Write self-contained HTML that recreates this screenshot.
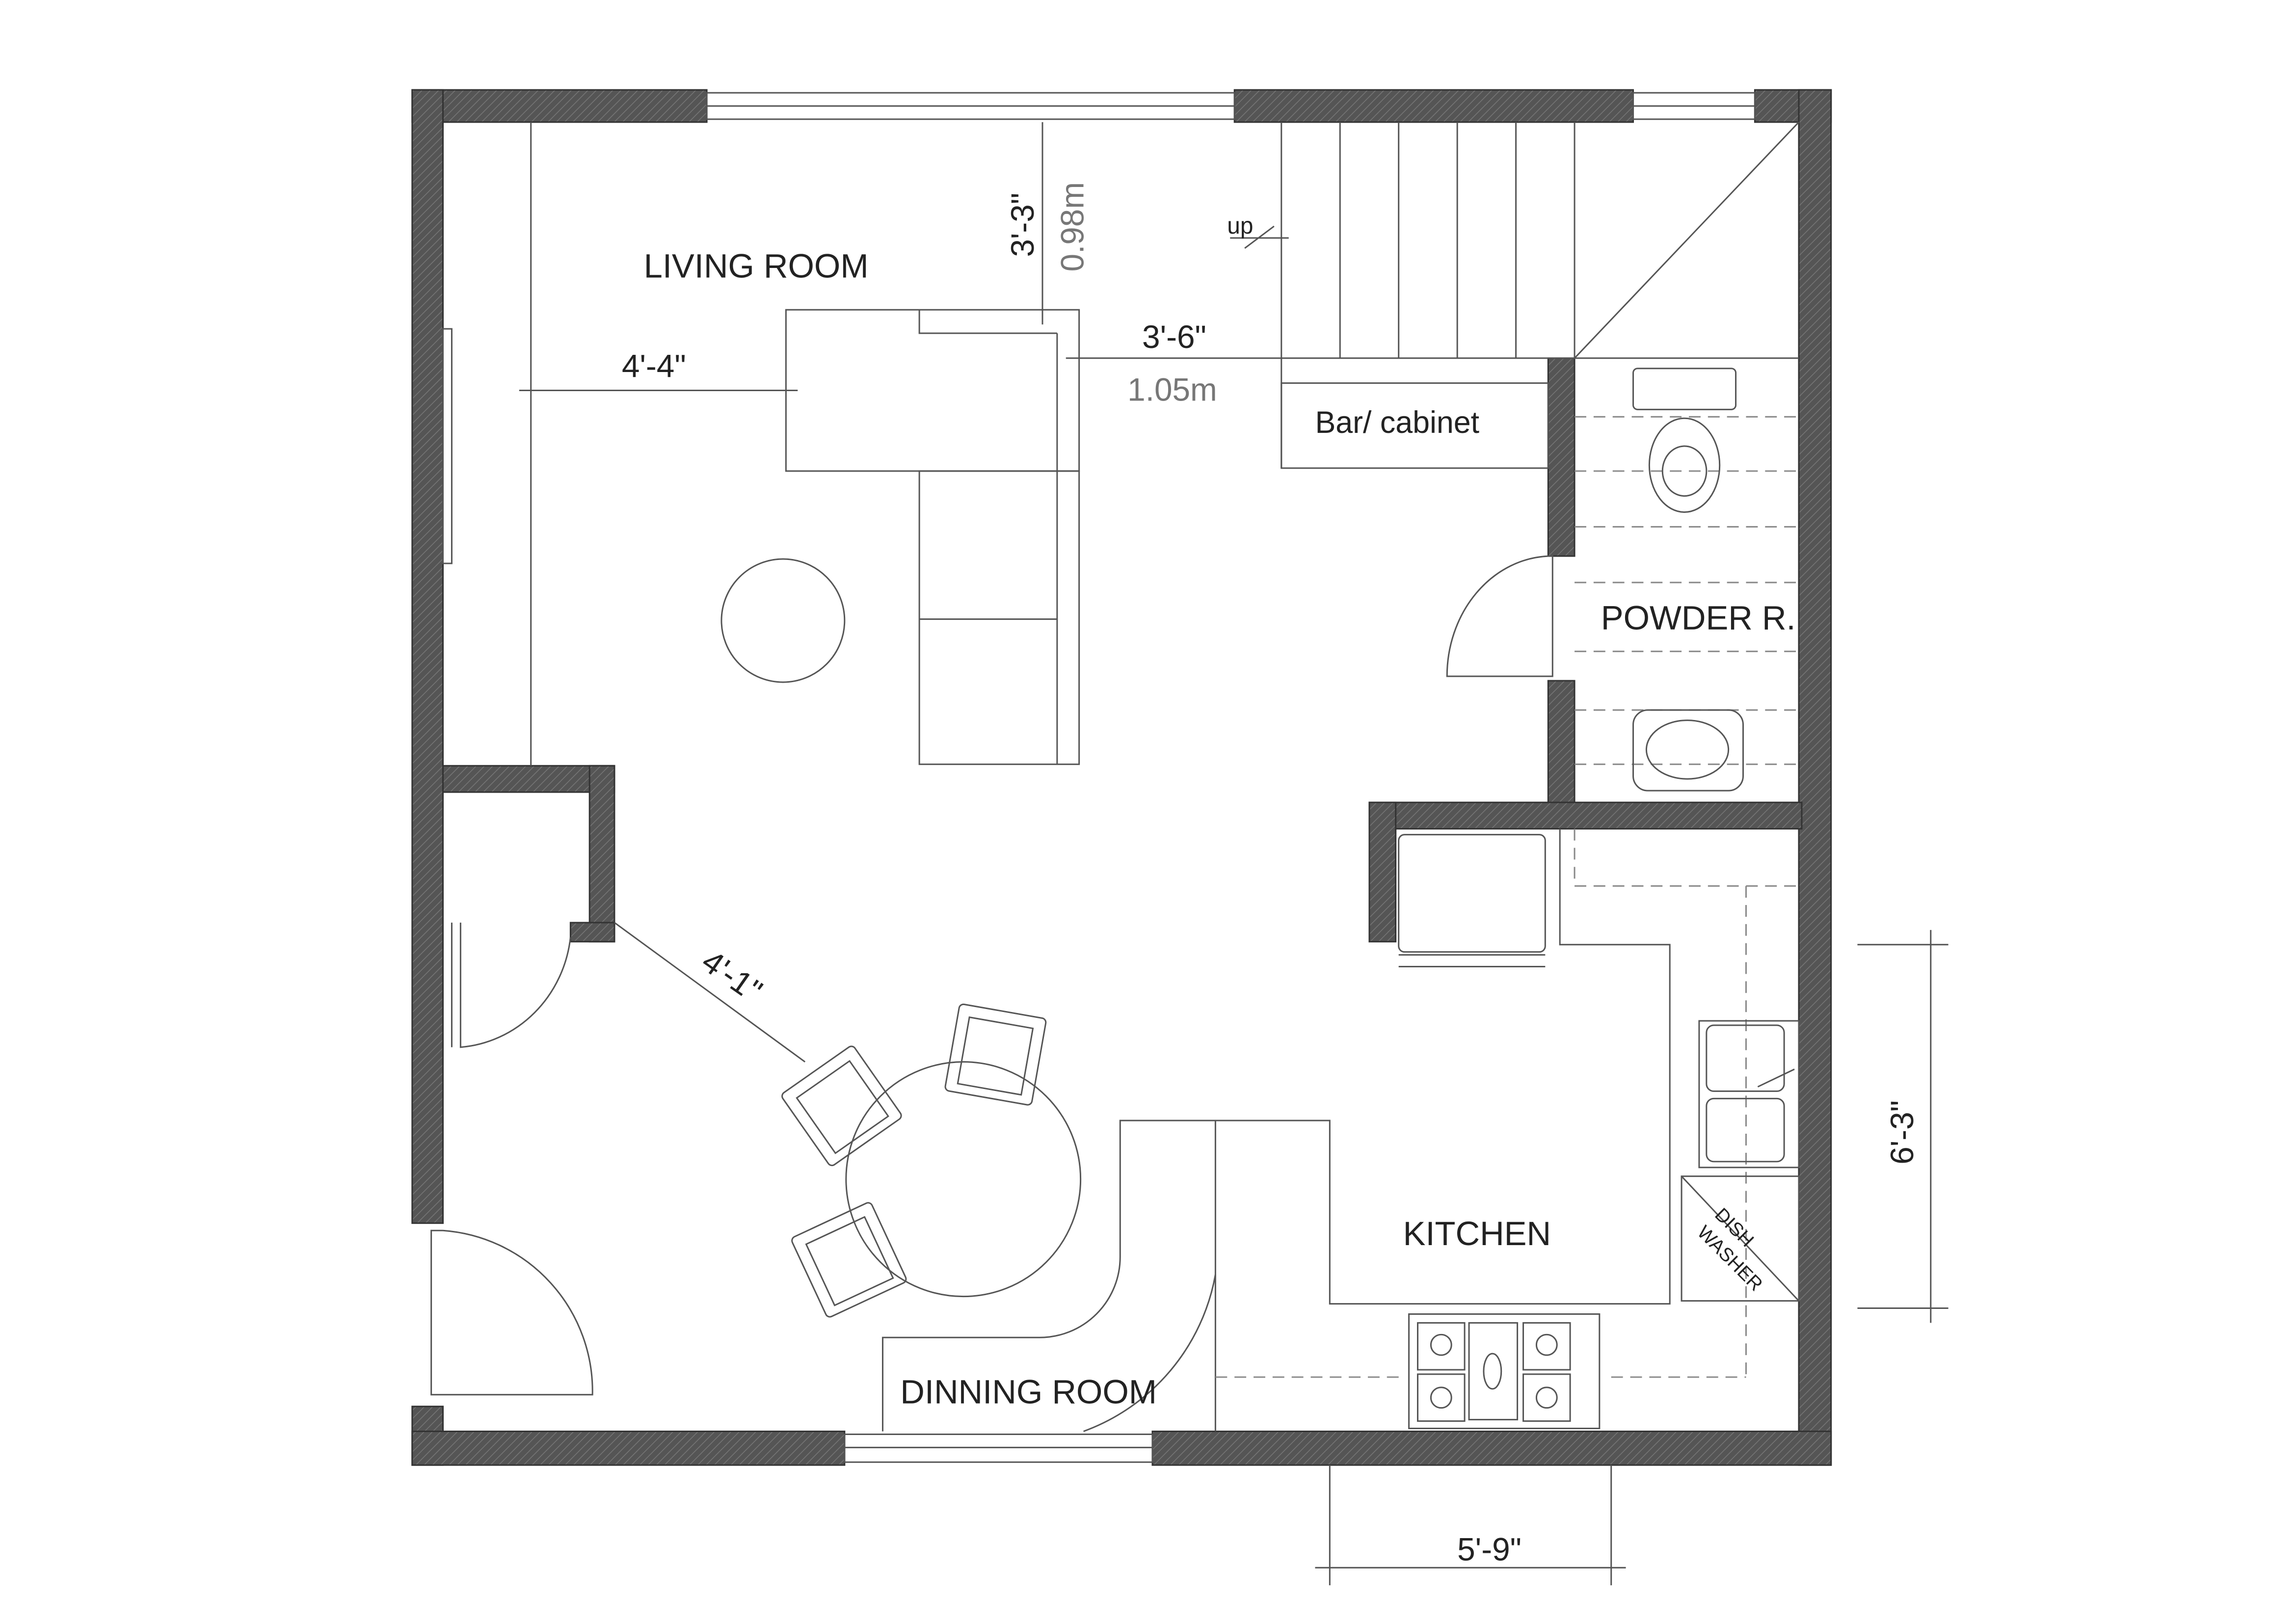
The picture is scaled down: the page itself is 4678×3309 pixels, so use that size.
<!DOCTYPE html>
<html><head><meta charset="utf-8"><style>html,body{margin:0;padding:0;background:#fff}svg{display:block}</style></head><body>
<svg width="4678" height="3309" viewBox="0.8 0.7 1566.4 1107.7" preserveAspectRatio="none" xmlns="http://www.w3.org/2000/svg" font-family="Liberation Sans, sans-serif">
<defs><pattern id="h" width="4" height="4" patternUnits="userSpaceOnUse" patternTransform="rotate(45)"><rect width="4" height="4" fill="#555"/><line x1="0" y1="0" x2="0" y2="4" stroke="#777" stroke-width="1"/></pattern></defs>
<rect x="-10" y="-10" width="1600" height="1130" fill="#fff"/>
<g fill="url(#h)" stroke="#333" stroke-width="1">
<rect x="282" y="62" width="201" height="22"/>
<rect x="843" y="62" width="272" height="22"/>
<rect x="1198" y="62" width="52" height="22"/>
<rect x="282" y="62" width="21" height="773"/>
<rect x="282" y="960" width="21" height="40"/>
<rect x="1228" y="62" width="22" height="938"/>
<rect x="282" y="977" width="295" height="23"/>
<rect x="787" y="977" width="463" height="23"/>
<rect x="303" y="523" width="117" height="18"/>
<rect x="403" y="523" width="17" height="120"/>
<rect x="390" y="630" width="30" height="13"/>
<rect x="1057" y="245" width="18" height="135"/>
<rect x="1057" y="465" width="18" height="100"/>
<rect x="935" y="548" width="295" height="18"/>
<rect x="935" y="548" width="18" height="95"/>
</g>
<g fill="none" stroke="#555" stroke-width="1">
<rect x="483" y="64" width="360" height="18"/><line x1="483" y1="73" x2="843" y2="73"/>
<rect x="1115" y="64" width="83" height="18"/><line x1="1115" y1="73" x2="1198" y2="73"/>
<rect x="577" y="979" width="210" height="19"/><line x1="577" y1="988" x2="787" y2="988"/>
<rect x="303" y="225" width="6" height="160"/>
<line x1="363" y1="84" x2="363" y2="523"/>
<line x1="355" y1="267" x2="545" y2="267"/>
<rect x="537" y="212" width="200" height="110"/>
<polyline points="628,212 628,228 722,228"/>
<rect x="628" y="322" width="109" height="200"/>
<line x1="628" y1="423" x2="722" y2="423"/><line x1="722" y1="228" x2="722" y2="522"/>
<circle cx="535" cy="424" r="42"/>
<line x1="712" y1="84" x2="712" y2="222"/>
<line x1="728" y1="245" x2="875" y2="245"/>
<line x1="875" y1="84" x2="875" y2="320"/>
<line x1="875" y1="245" x2="1228" y2="245"/>
<line x1="915" y1="84" x2="915" y2="245"/><line x1="955" y1="84" x2="955" y2="245"/><line x1="995" y1="84" x2="995" y2="245"/><line x1="1035" y1="84" x2="1035" y2="245"/><line x1="1075" y1="84" x2="1075" y2="245"/>
<line x1="1075" y1="245" x2="1228" y2="84"/>
<line x1="840" y1="163" x2="880" y2="163"/><line x1="850" y1="170" x2="870" y2="155"/>
<rect x="875" y="262" width="182" height="58"/>
<g stroke-dasharray="8,5" stroke="#888"><line x1="1075" y1="285" x2="1228" y2="285"/><line x1="1075" y1="322" x2="1228" y2="322"/><line x1="1075" y1="360" x2="1228" y2="360"/><line x1="1075" y1="398" x2="1228" y2="398"/><line x1="1075" y1="445" x2="1228" y2="445"/><line x1="1075" y1="485" x2="1228" y2="485"/><line x1="1075" y1="522" x2="1228" y2="522"/></g>
<rect x="1115" y="252" width="70" height="28" rx="3"/>
<ellipse cx="1150" cy="318" rx="24" ry="32"/><ellipse cx="1150" cy="322" rx="15" ry="17"/>
<rect x="1115" y="485" width="75" height="55" rx="10"/><ellipse cx="1152" cy="512" rx="28" ry="20"/>
<path d="M1057,380 L1060,380 L1060,462 L988,462 A72,82 0 0 1 1057,380"/>
<path d="M315,630 L315,715 A82,85 0 0 0 390,640"/>
<line x1="309" y1="630" x2="309" y2="715"/>
<path d="M303,840 L295,840 L295,952 L405,952 A110,110 0 0 0 303,840"/>
<line x1="420" y1="630" x2="550" y2="725"/>
<line x1="1268" y1="645" x2="1330" y2="645"/><line x1="1268" y1="893" x2="1330" y2="893"/><line x1="1318" y1="635" x2="1318" y2="903"/>
<line x1="908" y1="1000" x2="908" y2="1082"/><line x1="1100" y1="1000" x2="1100" y2="1082"/><line x1="898" y1="1070" x2="1110" y2="1070"/>
<circle cx="658" cy="805" r="80"/>
<path d="M603,977 L603,913 L710,913 A55,55 0 0 0 765,858 L765,765 L908,765 L908,890 L1140,890 L1140,645 L1065,645 L1065,566"/>
<line x1="830" y1="765" x2="830" y2="977"/>
<path d="M830,870 A140,140 0 0 1 740,977"/>
<g transform="rotate(10 680 720)"><rect x="650" y="690" width="60" height="60" rx="3"/><rect x="658" y="698" width="44" height="46"/></g>
<g transform="rotate(-35 575 755)"><rect x="545" y="725" width="60" height="60" rx="3"/><rect x="553" y="733" width="44" height="46"/></g>
<g transform="rotate(-25 580 860)"><rect x="550" y="830" width="60" height="60" rx="3"/><rect x="558" y="838" width="44" height="46"/></g>
<rect x="955" y="570" width="100" height="80" rx="4"/><line x1="955" y1="652" x2="1055" y2="652"/><line x1="955" y1="660" x2="1055" y2="660"/>
<g stroke-dasharray="8,5" stroke="#888"><polyline points="1075,566 1075,605 1228,605"/><line x1="1192" y1="605" x2="1192" y2="940"/><line x1="830" y1="940" x2="960" y2="940"/><line x1="1100" y1="940" x2="1192" y2="940"/></g>
<rect x="1160" y="697" width="68" height="100"/><rect x="1165" y="700" width="53" height="45" rx="5"/><rect x="1165" y="750" width="53" height="43" rx="5"/>
<line x1="1200" y1="742" x2="1225" y2="730"/>
<rect x="1148" y="803" width="80" height="85"/><line x1="1148" y1="803" x2="1228" y2="888"/>
<rect x="962" y="897" width="130" height="78"/>
<rect x="968" y="903" width="32" height="32"/><rect x="1003" y="903" width="33" height="66"/><rect x="1040" y="903" width="32" height="32"/><rect x="968" y="938" width="32" height="32"/><rect x="1040" y="938" width="32" height="32"/>
<circle cx="984" cy="918" r="7"/><circle cx="1056" cy="918" r="7"/><circle cx="984" cy="954" r="7"/><circle cx="1056" cy="954" r="7"/><ellipse cx="1019" cy="936" rx="6" ry="12"/>
</g>
<g fill="#222" font-size="22">
<text x="440" y="190" font-size="23">LIVING ROOM</text>
<text x="425" y="258">4'-4"</text>
<text x="780" y="238">3'-6"</text>
<text x="770" y="274" fill="#777">1.05m</text>
<text x="898" y="296" font-size="21">Bar/ cabinet</text>
<text x="1093" y="430" font-size="23">POWDER R.</text>
<text x="958" y="850" font-size="23">KITCHEN</text>
<text x="615" y="958" font-size="23">DINNING ROOM</text>
<text x="995" y="1065">5'-9"</text>
<text x="838" y="160" font-size="16">up</text>
<text transform="translate(706,176) rotate(-90)">3'-3"</text>
<text transform="translate(740,186) rotate(-90)" fill="#777">0.98m</text>
<text transform="translate(1306,795) rotate(-90)">6'-3"</text>
<text transform="translate(478,660) rotate(35)">4'-1"</text>
<text transform="translate(1170,830) rotate(45)" font-size="13">DISH</text>
<text transform="translate(1158,842) rotate(45)" font-size="13">WASHER</text>
</g>
</svg>
</body></html>
